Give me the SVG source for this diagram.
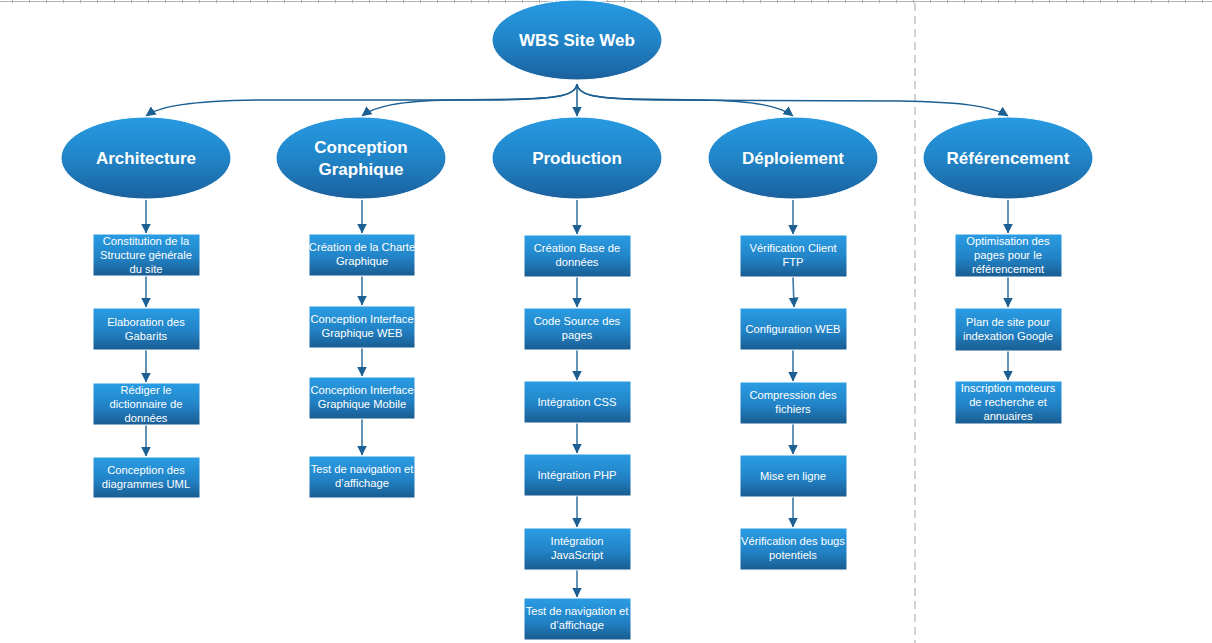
<svg xmlns="http://www.w3.org/2000/svg" width="1212" height="643" viewBox="0 0 1212 643">
<defs>
<linearGradient id="gE" x1="0" y1="0" x2="0" y2="1"><stop offset="0" stop-color="#279ae2"/><stop offset="0.5" stop-color="#2185c8"/><stop offset="1" stop-color="#1a609d"/></linearGradient>
<linearGradient id="gB" x1="0" y1="0" x2="0" y2="1"><stop offset="0" stop-color="#2a9de4"/><stop offset="0.55" stop-color="#2283c6"/><stop offset="1" stop-color="#195c91"/></linearGradient>
<marker id="ar" markerUnits="userSpaceOnUse" markerWidth="10" markerHeight="10" viewBox="0 0 10 10" refX="9.5" refY="5" orient="auto"><path d="M0,0 L10,5 L0,10 Z" fill="#1c5f92"/></marker>
<pattern id="ticks" x="12" y="0" width="17" height="4" patternUnits="userSpaceOnUse"><rect x="0" y="0" width="1" height="3" fill="#a8a8a8"/></pattern>
</defs>
<style>
.e{fill:url(#gE);stroke:#ffffff;stroke-width:1}
.b{fill:url(#gB);stroke:#ffffff;stroke-width:1}
.h{font-family:"Liberation Sans",Arial,sans-serif;font-weight:bold;font-size:17px;fill:#ffffff;text-anchor:middle}
.t{font-family:"Liberation Sans",Arial,sans-serif;font-size:11.2px;fill:#ffffff;text-anchor:middle}
.c{fill:none;stroke:#1c5f92;stroke-width:1.5;marker-end:url(#ar)}
.v{fill:none;stroke:#3d78a6;stroke-width:1.6;marker-end:url(#ar)}
</style>
<rect x="0" y="0" width="1212" height="643" fill="#ffffff"/>
<rect x="0" y="0" width="1212" height="3" fill="url(#ticks)"/>
<line x1="0" y1="1.5" x2="1212" y2="1.5" stroke="#b4b4b4" stroke-width="1.2"/>
<line x1="915" y1="3" x2="915" y2="643" stroke="#b4b4b4" stroke-width="1.2" stroke-dasharray="8,5"/>

<g id="connectors">
<path class="c" d="M577,84 C576,95 560,99 500,100 L260,100 C190,101 160,106 146,116"/>
<path class="c" d="M577,84 C576,95 560,98 520,99 L450,100 C400,101 375,106 362,116"/>
<path class="c" d="M577,84 L577,116"/>
<path class="c" d="M577,84 C578,95 594,98 634,99 L704,100 C754,101 780,106 793,116"/>
<path class="c" d="M577,84 C578,95 594,99 654,100 L900,101 C960,102 992,106 1008,116"/>
<path class="v" d="M146,200 L146,233"/>
<path class="v" d="M146,276 L146,307"/>
<path class="v" d="M146,350 L146,382"/>
<path class="v" d="M146,425 L146,456"/>
<path class="v" d="M362,200 L362,233"/>
<path class="v" d="M362,276 L362,305"/>
<path class="v" d="M362,348 L362,376"/>
<path class="v" d="M362,419 L362,455"/>
<path class="v" d="M577,200 L577,234"/>
<path class="v" d="M577,277 L577,307"/>
<path class="v" d="M577,350 L577,380"/>
<path class="v" d="M577,423 L577,453"/>
<path class="v" d="M577,496 L577,527"/>
<path class="v" d="M577,570 L577,597"/>
<path class="v" d="M793,200 L793,234"/>
<path class="v" d="M793,277 L794,307"/>
<path class="v" d="M793,350 L793,381"/>
<path class="v" d="M793,424 L793,454"/>
<path class="v" d="M793,497 L793,527"/>
<path class="v" d="M1008,200 L1008,233"/>
<path class="v" d="M1008,277 L1008,307"/>
<path class="v" d="M1008,351 L1008,380"/>
</g>

<g id="root"><ellipse class="e" cx="577" cy="40" rx="85" ry="40"/><text class="h" x="577" y="46">WBS Site Web</text></g>

<g id="architecture"><ellipse class="e" cx="146" cy="158" rx="85" ry="41"/><text class="h" x="146" y="164">Architecture</text></g>
<g id="conception"><ellipse class="e" cx="361" cy="158" rx="85" ry="41"/><text class="h" x="361" y="153">Conception</text><text class="h" x="361" y="175">Graphique</text></g>
<g id="production"><ellipse class="e" cx="577" cy="158" rx="85" ry="41"/><text class="h" x="577" y="164">Production</text></g>
<g id="deploiement"><ellipse class="e" cx="793" cy="158" rx="85" ry="41"/><text class="h" x="793" y="164">Déploiement</text></g>
<g id="referencement"><ellipse class="e" cx="1008" cy="158" rx="85" ry="41"/><text class="h" x="1008" y="164">Référencement</text></g>

<g id="a1"><rect class="b" x="93" y="234" width="107" height="42"/><text class="t" x="146" y="245">Constitution de la</text><text class="t" x="146" y="259">Structure générale</text><text class="t" x="146" y="273">du site</text></g>
<g id="a2"><rect class="b" x="93" y="308" width="107" height="42"/><text class="t" x="146" y="326">Elaboration des</text><text class="t" x="146" y="340">Gabarits</text></g>
<g id="a3"><rect class="b" x="93" y="383" width="107" height="42"/><text class="t" x="146" y="394">Rédiger le</text><text class="t" x="146" y="408">dictionnaire de</text><text class="t" x="146" y="422">données</text></g>
<g id="a4"><rect class="b" x="93" y="457" width="107" height="41"/><text class="t" x="146" y="474">Conception des</text><text class="t" x="146" y="488">diagrammes UML</text></g>

<g id="c1"><rect class="b" x="309" y="234" width="106" height="42"/><text class="t" x="362" y="251">Création de la Charte</text><text class="t" x="362" y="265">Graphique</text></g>
<g id="c2"><rect class="b" x="309" y="306" width="106" height="42"/><text class="t" x="362" y="323">Conception Interface</text><text class="t" x="362" y="337">Graphique WEB</text></g>
<g id="c3"><rect class="b" x="309" y="377" width="106" height="42"/><text class="t" x="362" y="394">Conception Interface</text><text class="t" x="362" y="408">Graphique Mobile</text></g>
<g id="c4"><rect class="b" x="309" y="456" width="106" height="42"/><text class="t" x="362" y="473">Test de navigation et</text><text class="t" x="362" y="487">d’affichage</text></g>

<g id="p1"><rect class="b" x="524" y="235" width="107" height="42"/><text class="t" x="577" y="252">Création Base de</text><text class="t" x="577" y="266">données</text></g>
<g id="p2"><rect class="b" x="524" y="308" width="107" height="42"/><text class="t" x="577" y="325">Code Source des</text><text class="t" x="577" y="339">pages</text></g>
<g id="p3"><rect class="b" x="524" y="381" width="107" height="42"/><text class="t" x="577" y="406">Intégration CSS</text></g>
<g id="p4"><rect class="b" x="524" y="454" width="107" height="42"/><text class="t" x="577" y="479">Intégration PHP</text></g>
<g id="p5"><rect class="b" x="524" y="528" width="107" height="42"/><text class="t" x="577" y="545">Intégration</text><text class="t" x="577" y="559">JavaScript</text></g>
<g id="p6"><rect class="b" x="524" y="598" width="107" height="42"/><text class="t" x="577" y="615">Test de navigation et</text><text class="t" x="577" y="629">d’affichage</text></g>

<g id="d1"><rect class="b" x="740" y="235" width="107" height="42"/><text class="t" x="793" y="252">Vérification Client</text><text class="t" x="793" y="266">FTP</text></g>
<g id="d2"><rect class="b" x="740" y="308" width="107" height="42"/><text class="t" x="793" y="333">Configuration WEB</text></g>
<g id="d3"><rect class="b" x="740" y="382" width="107" height="42"/><text class="t" x="793" y="399">Compression des</text><text class="t" x="793" y="413">fichiers</text></g>
<g id="d4"><rect class="b" x="740" y="455" width="107" height="42"/><text class="t" x="793" y="480">Mise en ligne</text></g>
<g id="d5"><rect class="b" x="740" y="528" width="107" height="42"/><text class="t" x="793" y="545">Vérification des bugs</text><text class="t" x="793" y="559">potentiels</text></g>

<g id="r1"><rect class="b" x="955" y="234" width="107" height="43"/><text class="t" x="1008" y="245">Optimisation des</text><text class="t" x="1008" y="259">pages pour le</text><text class="t" x="1008" y="273">référencement</text></g>
<g id="r2"><rect class="b" x="955" y="308" width="107" height="43"/><text class="t" x="1008" y="326">Plan de site pour</text><text class="t" x="1008" y="340">indexation Google</text></g>
<g id="r3"><rect class="b" x="955" y="381" width="107" height="43"/><text class="t" x="1008" y="392">Inscription moteurs</text><text class="t" x="1008" y="406">de recherche et</text><text class="t" x="1008" y="420">annuaires</text></g>
</svg>
